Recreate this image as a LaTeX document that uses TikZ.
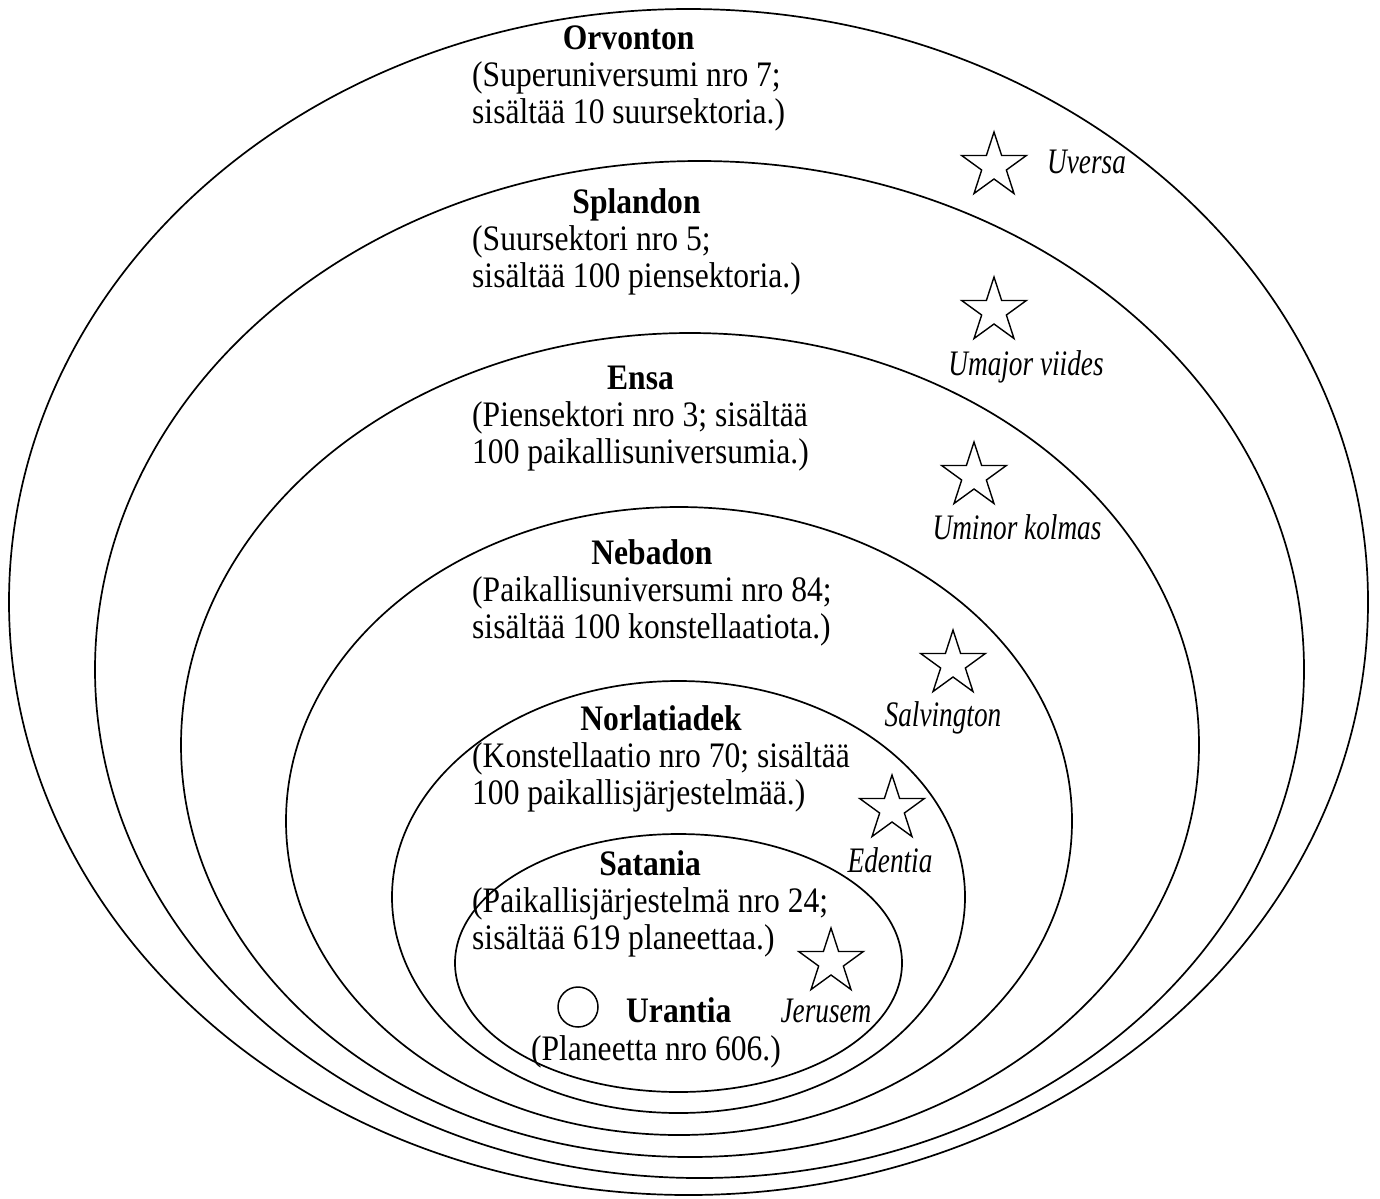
\documentclass[tikz,border=0pt]{standalone}
\usepackage{fontspec}
\setmainfont{Liberation Serif}[FakeStretch=0.88]
\newfontfamily\lblfont{Liberation Serif}[FakeStretch=0.76]
\usetikzlibrary{shapes.geometric}
\newcommand{\orbtext}[3]{\begin{tabular}[t]{@{}l@{}}\multicolumn{1}{@{}c@{}}{\textbf{#1}}\\[1pt] #2\\ #3\end{tabular}}
\begin{document}
\begin{tikzpicture}[x=1bp,y=-1bp,
  orb/.style={draw, line width=1.7bp},
  blk/.style={inner sep=0pt, anchor=base west, font=\fontsize{36}{37}\selectfont},
  lbl/.style={inner sep=0pt, anchor=base, font=\lblfont\itshape\fontsize{36}{37}\selectfont},
  starnode/.style={draw, star, star points=5, star point ratio=2.618, minimum size=68bp, inner sep=0pt, line width=1.4bp},
  planet/.style={draw, circle, minimum size=40bp, inner sep=0pt, line width=1.5bp}]
\useasboundingbox (0,0) rectangle (1380,1198);
\fill[white] (0,0) rectangle (1380,1198);
% nested orbits
\draw[orb] (688.5,602) ellipse [x radius=679.5, y radius=593];
\draw[orb] (699.5,669.5) ellipse [x radius=604.5, y radius=508.5];
\draw[orb] (690,745) ellipse [x radius=509, y radius=412];
\draw[orb] (679,821) ellipse [x radius=393, y radius=314];
\draw[orb] (678.5,897) ellipse [x radius=286.5, y radius=216];
\draw[orb] (678.5,963) ellipse [x radius=223.5, y radius=129];
% text blocks
\node[blk] (orvonton) at (472,49) {\orbtext{Orvonton}{(Superuniversumi nro 7;}{sisältää 10 suursektoria.)}};
\node[blk] (splandon) at (472,213) {\orbtext{Splandon}{(Suursektori nro 5;}{sisältää 100 piensektoria.)}};
\node[blk] (ensa) at (472,389) {\orbtext{Ensa}{(Piensektori nro 3; sisältää}{100 paikallisuniversumia.)}};
\node[blk] (nebadon) at (472,564) {\orbtext{Nebadon}{(Paikallisuniversumi nro 84;}{sisältää 100 konstellaatiota.)}};
\node[blk] (norlatiadek) at (472,730) {\orbtext{Norlatiadek}{(Konstellaatio nro 70; sisältää}{100 paikallisjärjestelmää.)}};
\node[blk] (satania) at (472,875) {\orbtext{Satania}{(Paikallisjärjestelmä nro 24;}{sisältää 619 planeettaa.)}};
\node[blk] (urantia) at (626,1022) {\textbf{Urantia}};
\node[blk, anchor=base] (urantiaInfo) at (656,1060) {(Planeetta nro 606.)};
\node[planet] (urantiaC) at (578,1007) {};
% capitals
\node[starnode] (uversaS) at (994,166) {};
\node[starnode] (umajorS) at (994,311) {};
\node[starnode] (uminorS) at (974,476) {};
\node[starnode] (salvS) at (953,664) {};
\node[starnode] (edenS) at (892,809) {};
\node[starnode] (jeruS) at (831,962) {};
\node[lbl, anchor=base west] (uversaL) at (1047,173) {Uversa};
\node[lbl] (umajorL) at (1026,375) {Umajor viides};
\node[lbl] (uminorL) at (1017,539) {Uminor kolmas};
\node[lbl] (salvL) at (943,726) {Salvington};
\node[lbl] (edenL) at (890,872) {Edentia};
\node[lbl] (jeruL) at (826,1022) {Jerusem};
\end{tikzpicture}
\end{document}
